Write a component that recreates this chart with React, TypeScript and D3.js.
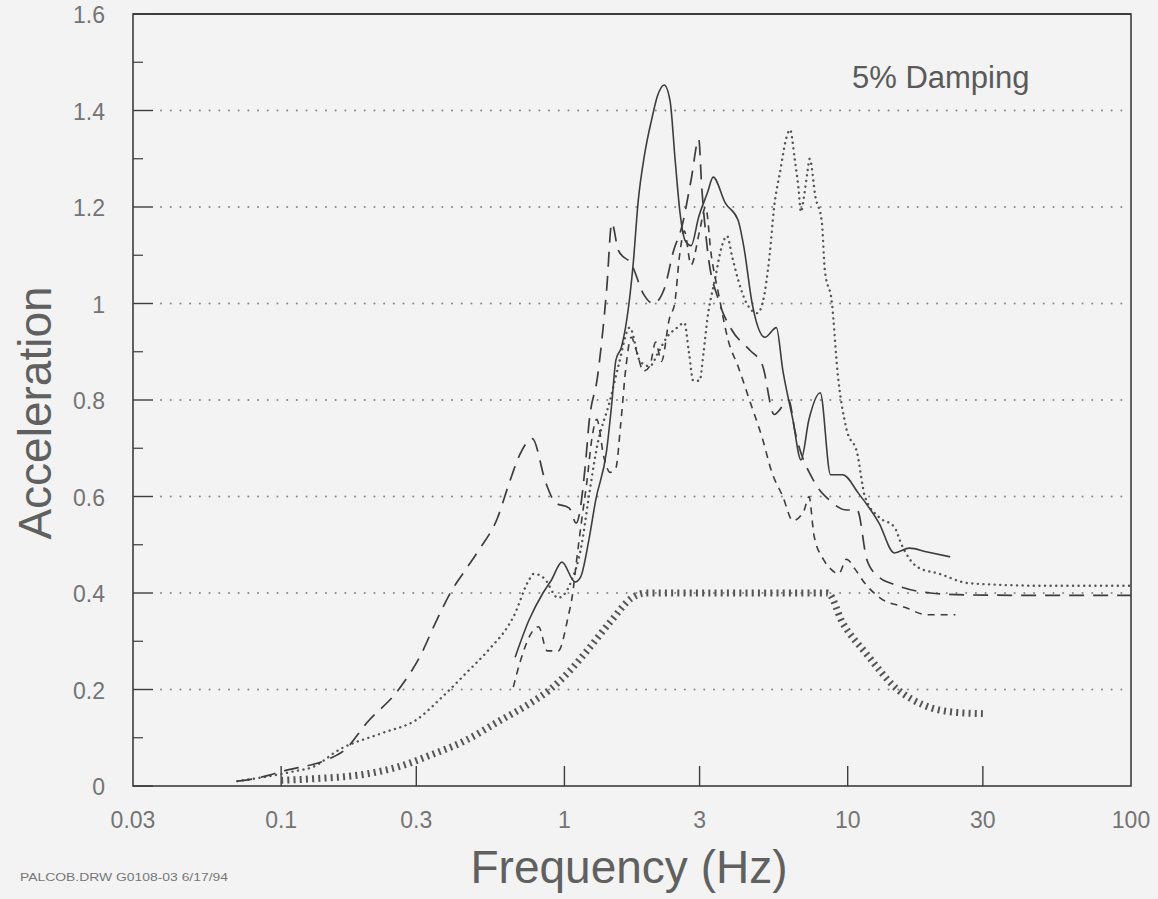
import * as d3 from 'd3';

// [frequency Hz, spectral acceleration g]
const solidSeries: [number, number][] = [
  [0.67, 0.267], [0.75, 0.344], [0.84, 0.40], [0.90, 0.427], [0.98, 0.464], [1.09, 0.423],
  [1.14, 0.433], [1.22, 0.51], [1.29, 0.593], [1.41, 0.696], [1.47, 0.794], [1.52, 0.883],
  [1.59, 0.91], [1.69, 1.0], [1.75, 1.084], [1.82, 1.21], [1.92, 1.31], [2.03, 1.38],
  [2.13, 1.43], [2.25, 1.453], [2.36, 1.42], [2.46, 1.297], [2.56, 1.187], [2.67, 1.13],
  [2.8, 1.12], [2.98, 1.18], [3.2, 1.23], [3.35, 1.262], [3.7, 1.208], [4.1, 1.173],
  [4.3, 1.117], [4.6, 1.0], [5.1, 0.93], [5.6, 0.95], [5.9, 0.862], [6.4, 0.76],
  [6.84, 0.676], [7.3, 0.76], [8.0, 0.815], [8.7, 0.645], [9.6, 0.645], [10.9, 0.607],
  [12.9, 0.545], [14.6, 0.483], [16.5, 0.493], [19.1, 0.485], [23, 0.475],
];

const longDashSeries: [number, number][] = [
  [0.07, 0.01], [0.08, 0.015], [0.09, 0.022], [0.1, 0.03], [0.115, 0.038], [0.13, 0.045],
  [0.15, 0.058], [0.168, 0.075], [0.2, 0.13], [0.26, 0.2], [0.31, 0.27], [0.355, 0.345],
  [0.4, 0.405], [0.45, 0.45], [0.5, 0.49], [0.58, 0.555], [0.64, 0.63], [0.7, 0.69], [0.77, 0.72],
  [0.86, 0.628], [0.93, 0.587], [1.04, 0.576], [1.10, 0.545], [1.19, 0.676], [1.22, 0.75],
  [1.31, 0.85], [1.41, 1.03], [1.47, 1.167], [1.55, 1.11], [1.73, 1.08], [1.9, 1.02],
  [2.06, 1.0], [2.25, 1.03], [2.43, 1.11], [2.6, 1.16], [2.8, 1.256], [2.98, 1.34],
  [3.05, 1.245], [3.2, 1.11], [3.5, 1.007], [3.9, 0.945], [4.5, 0.904], [5.0, 0.872],
  [5.5, 0.77], [6.2, 0.8], [6.5, 0.738], [7.56, 0.634], [8.6, 0.593], [9.9, 0.572],
  [10.8, 0.572], [11.7, 0.468], [12.9, 0.433], [14.7, 0.417], [19.6, 0.40], [26.7, 0.396],
  [50, 0.395], [100, 0.395],
];

const shortDashSeries: [number, number][] = [
  [0.66, 0.205], [0.7, 0.26], [0.77, 0.32], [0.81, 0.33], [0.87, 0.28], [0.95, 0.28],
  [1.03, 0.35], [1.07, 0.4], [1.1, 0.46], [1.15, 0.55], [1.2, 0.63], [1.25, 0.72],
  [1.3, 0.76], [1.38, 0.68], [1.45, 0.65], [1.52, 0.66], [1.58, 0.75], [1.65, 0.87],
  [1.72, 0.93], [1.8, 0.9], [1.9, 0.86], [2.0, 0.87], [2.1, 0.92], [2.2, 0.88],
  [2.35, 0.97], [2.45, 1.0], [2.55, 1.1], [2.65, 1.15], [2.8, 1.08], [3.0, 1.15],
  [3.15, 1.2], [3.3, 1.1], [3.5, 1.02], [3.8, 0.92], [4.1, 0.87], [4.5, 0.8],
  [5.0, 0.72], [5.4, 0.65], [5.9, 0.6], [6.4, 0.55], [7.0, 0.57], [7.3, 0.6],
  [7.6, 0.52], [8.2, 0.47], [8.7, 0.45], [9.3, 0.44], [9.9, 0.47], [10.6, 0.45],
  [11.5, 0.42], [13, 0.39], [16, 0.37], [19, 0.355], [24, 0.355],
];

const dottedSeries: [number, number][] = [
  [0.07, 0.01], [0.09, 0.02], [0.11, 0.03], [0.13, 0.04], [0.16, 0.075], [0.228, 0.11],
  [0.30, 0.137], [0.371, 0.185], [0.45, 0.234], [0.54, 0.282], [0.63, 0.33], [0.66, 0.35],
  [0.75, 0.427], [0.78, 0.44], [0.85, 0.43], [0.95, 0.39], [1.05, 0.42], [1.15, 0.5],
  [1.22, 0.6], [1.3, 0.7], [1.45, 0.8], [1.55, 0.87], [1.7, 0.95], [1.85, 0.88],
  [2.0, 0.87], [2.15, 0.9], [2.3, 0.93], [2.5, 0.95], [2.65, 0.96], [2.75, 0.9],
  [2.85, 0.84], [3.0, 0.84], [3.1, 0.9], [3.2, 0.97], [3.4, 1.05], [3.6, 1.12],
  [3.75, 1.14], [3.9, 1.1], [4.1, 1.05], [4.4, 1.0], [4.8, 0.98], [5.0, 1.0],
  [5.3, 1.1], [5.5, 1.2], [5.8, 1.28], [6.0, 1.33], [6.26, 1.36], [6.5, 1.3],
  [6.7, 1.24], [6.84, 1.19], [7.0, 1.22], [7.2, 1.27], [7.34, 1.3], [7.7, 1.22],
  [8.1, 1.17], [8.3, 1.07], [8.8, 1.0], [9.2, 0.86], [9.9, 0.74], [10.8, 0.69],
  [11.5, 0.6], [12.9, 0.557], [14.6, 0.537], [15.5, 0.5], [17.6, 0.454], [21, 0.44],
  [27, 0.42], [50, 0.415], [100, 0.415],
];

// design spectrum (heavy hatched line)
const targetSeries: [number, number][] = [
  [0.1, 0.012], [0.13, 0.015], [0.2, 0.025], [0.26, 0.04], [0.34, 0.065], [0.45, 0.095],
  [0.59, 0.135], [0.75, 0.17], [0.89, 0.2], [1.05, 0.24], [1.22, 0.285], [1.47, 0.344],
  [1.73, 0.39], [1.95, 0.40], [8.5, 0.40], [9.6, 0.338], [11.6, 0.275], [15, 0.2],
  [18.5, 0.168], [23.6, 0.153], [30, 0.15],
];

const xTickValues = [0.03, 0.1, 0.3, 1, 3, 10, 30, 100];
const xTickLabels = ['0.03', '0.1', '0.3', '1', '3', '10', '30', '100'];
const yTickValues = [0, 0.2, 0.4, 0.6, 0.8, 1, 1.2, 1.4, 1.6];
const yTickLabels = ['0', '0.2', '0.4', '0.6', '0.8', '1', '1.2', '1.4', '1.6'];
const yMinorValues = [0.1, 0.3, 0.5, 0.7, 0.9, 1.1, 1.3, 1.5];
const gridValues = [0.2, 0.4, 0.6, 0.8, 1, 1.2, 1.4];

const W = 1158;
const H = 899;
const left = 133, right = 1131, top = 14, bottom = 786;
const ink = '#3d3d3d';
const textColor = '#747474';
const font = '"Liberation Sans", Arial, Helvetica, sans-serif';

export default function App() {
  const x = d3.scaleLog().domain([0.03, 100]).range([left, right]);
  const y = d3.scaleLinear().domain([0, 1.6]).range([bottom, top]);

  const line = d3.line<[number, number]>()
    .x(d => x(d[0]))
    .y(d => y(d[1]))
    .curve(d3.curveMonotoneX);

  const series = [
    { data: targetSeries, dash: '2 4.2', width: 7, cap: 'butt', color: '#555' },
    { data: dottedSeries, dash: '0.1 5.5', width: 2.4, cap: 'round', color: '#555' },
    { data: shortDashSeries, dash: '7 6', width: 1.6, cap: 'butt', color: ink },
    { data: longDashSeries, dash: '15 9', width: 1.7, cap: 'butt', color: ink },
    { data: solidSeries, dash: 'none', width: 1.6, cap: 'butt', color: ink },
  ];

  return (
    <div style={{ position: 'fixed', left: 0, top: 0, width: W, height: H, background: '#f3f3f3' }}>
      <svg width={W} height={H} style={{ display: 'block' }} fontFamily={font}>
        {/* grid */}
        {gridValues.map(v => (
          <line key={'g' + v} x1={left + 28} x2={right - 4} y1={y(v)} y2={y(v)}
            stroke="#8a8a8a" strokeWidth={2} strokeDasharray="0.1 9.6" strokeLinecap="round" />
        ))}

        {/* frame */}
        <rect x={left} y={top} width={right - left} height={bottom - top}
          fill="none" stroke={ink} strokeWidth={1.6} />
        <line x1={left} x2={right} y1={top} y2={top} stroke={ink} strokeWidth={2.2} />

        {/* y ticks */}
        {yTickValues.map(v => (
          <line key={'yt' + v} x1={left} x2={left + 20} y1={y(v)} y2={y(v)} stroke={ink} strokeWidth={1.4} />
        ))}
        {yMinorValues.map(v => (
          <line key={'ym' + v} x1={left} x2={left + 10} y1={y(v)} y2={y(v)} stroke={ink} strokeWidth={1.2} />
        ))}
        {yTickValues.map((v, i) => (
          <text key={'yl' + v} x={105} y={y(v) + 3} textAnchor="end" dominantBaseline="middle"
            fontSize={23} fill={textColor}>{yTickLabels[i]}</text>
        ))}

        {/* x ticks */}
        {xTickValues.slice(1, -1).map(v => (
          <line key={'xt' + v} x1={x(v)} x2={x(v)} y1={bottom} y2={bottom - 20} stroke={ink} strokeWidth={1.4} />
        ))}
        {xTickValues.map((v, i) => (
          <text key={'xl' + v} x={x(v)} y={828} textAnchor="middle"
            fontSize={23} fill={textColor}>{xTickLabels[i]}</text>
        ))}

        {/* series */}
        {series.map((s, i) => (
          <path key={'s' + i} d={line(s.data) ?? ''} fill="none" stroke={s.color}
            strokeWidth={s.width} strokeDasharray={s.dash} strokeLinecap={s.cap as any}
            strokeLinejoin="round" />
        ))}

        {/* labels */}
        <text x={852} y={88} fontSize={31} fill="#5a5a5a">5% Damping</text>
        <text x={629} y={883} textAnchor="middle" fontSize={46} fill="#606060">Frequency (Hz)</text>
        <text transform="translate(51,413) rotate(-90)" textAnchor="middle" fontSize={46} fill="#606060">
          Acceleration
        </text>
        <text x={20} y={881} fontSize={11} fill="#777" textLength={208} lengthAdjust="spacingAndGlyphs">
          PALCOB.DRW G0108-03 6/17/94
        </text>
      </svg>
    </div>
  );
}
